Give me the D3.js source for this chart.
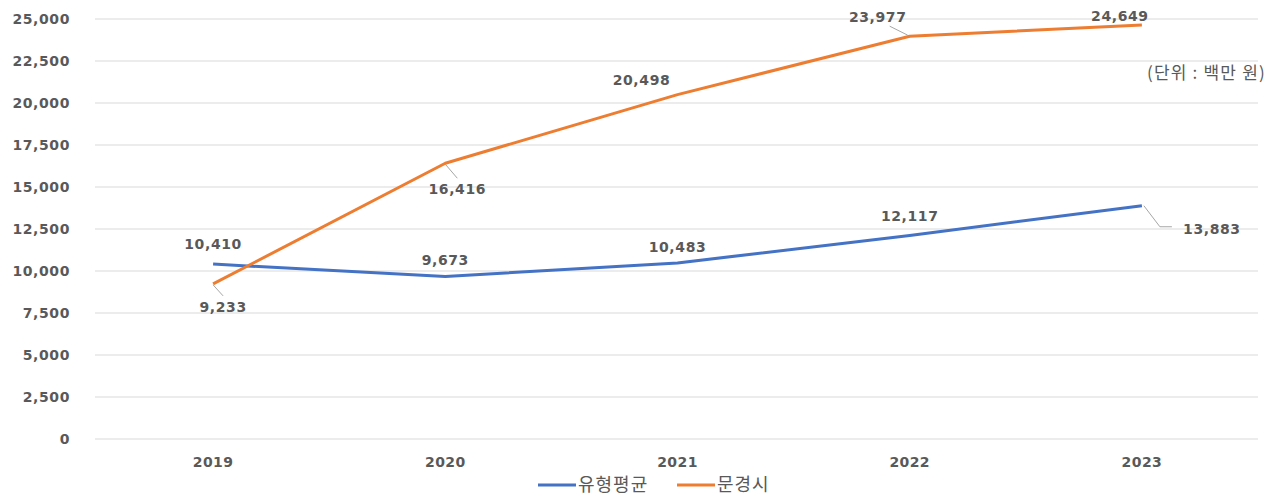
<!DOCTYPE html>
<html>
<head>
<meta charset="utf-8">
<script src="https://cdn.jsdelivr.net/npm/d3@7"></script>
<style>
  body { margin: 0; background: #fff; }
  text { font-family: "DejaVu Sans", "Noto Sans CJK KR", sans-serif; fill: #595959; }
  .kr { font-family: "Noto Sans CJK KR", sans-serif; }
</style>
</head>
<body>
<script>
const years = ['2019', '2020', '2021', '2022', '2023'];
const avgValues = [10410, 9673, 10483, 12117, 13883];
const mungValues = [9233, 16416, 20498, 23977, 24649];
const seriesNames = ['유형평균', '문경시'];
const yTicks = [0, 2500, 5000, 7500, 10000, 12500, 15000, 17500, 20000, 22500, 25000];

// label offsets (dx, dy) from the point, and whether a leader line is drawn
const avgLabelPos = [[0, -20, false], [0, -16, false], [0, -16, false], [0, -19, false], [70, 23, true]];
const mungLabelPos = [[10, 23, true], [12, 26, true], [-36, -15, false], [-32, -19, true], [-22, -9, false]];

const svgWidth = 1276;
const svgHeight = 497;

const svg = d3.select('body').append('svg')
  .attr('width', svgWidth)
  .attr('height', svgHeight);

const x = d3.scaleBand()
  .domain(years)
  .range([97, 1258]);

const y = d3.scaleLinear()
  .domain([0, 25000])
  .range([439, 19]);

const fmt = d3.format(',');

// gridlines
svg.append('g')
  .selectAll('line')
  .data(yTicks)
  .enter()
  .append('line')
  .attr('x1', 95)
  .attr('x2', 1258)
  .attr('y1', d => y(d))
  .attr('y2', d => y(d))
  .attr('stroke', '#d9d9d9')
  .attr('stroke-width', 1);

// y axis labels
svg.append('g')
  .selectAll('text')
  .data(yTicks)
  .enter()
  .append('text')
  .attr('x', 70)
  .attr('y', d => y(d))
  .attr('dy', '0.35em')
  .attr('text-anchor', 'end')
  .attr('font-size', 14)
  .attr('font-weight', 'bold')
  .attr('letter-spacing', 0.6)
  .text(d => fmt(d));

// x axis labels
svg.append('g')
  .selectAll('text')
  .data(years)
  .enter()
  .append('text')
  .attr('x', d => x(d) + x.bandwidth() / 2)
  .attr('y', 462)
  .attr('dy', '0.35em')
  .attr('text-anchor', 'middle')
  .attr('font-size', 14)
  .attr('font-weight', 'bold')
  .attr('letter-spacing', 0.4)
  .text(d => d);

const line = d3.line()
  .x((d, i) => x(years[i]) + x.bandwidth() / 2)
  .y(d => y(d));

const series = [
  { name: seriesNames[0], values: avgValues, color: '#4472C4', labels: avgLabelPos },
  { name: seriesNames[1], values: mungValues, color: '#ED7D31', labels: mungLabelPos }
];

// data label leaders first
series.forEach(s => {
  s.values.forEach((v, i) => {
    const px = x(years[i]) + x.bandwidth() / 2;
    const py = y(v);
    const [dx, dy, leader] = s.labels[i];
    if (!leader) return;
    let pts;
    if (dx > 40) {
      pts = [[px + 2, py], [px + 18, py + 21], [px + 30, py + 21]];
    } else if (dy > 0) {
      pts = [[px, py + 1], [px + dx, py + dy - 11]];
    } else {
      pts = [[px - 2, py - 1], [px + dx + 12, py + dy + 9]];
    }
    svg.append('polyline')
      .attr('points', pts.map(p => p.join(',')).join(' '))
      .attr('fill', 'none')
      .attr('stroke', '#a6a6a6')
      .attr('stroke-width', 1);
  });
});

series.forEach(s => {
  svg.append('path')
    .datum(s.values)
    .attr('d', line)
    .attr('fill', 'none')
    .attr('stroke', s.color)
    .attr('stroke-width', 3)
    .attr('stroke-linejoin', 'round');
});

// data labels
series.forEach(s => {
  s.values.forEach((v, i) => {
    const px = x(years[i]) + x.bandwidth() / 2;
    const py = y(v);
    const [dx, dy] = s.labels[i];
    svg.append('text')
      .attr('x', px + dx)
      .attr('y', py + dy)
      .attr('dy', '0.35em')
      .attr('text-anchor', 'middle')
      .attr('font-size', 14)
      .attr('font-weight', 'bold')
      .attr('letter-spacing', 0.6)
      .text(fmt(v));
  });
});

// unit
svg.append('text')
  .attr('class', 'kr')
  .attr('x', 1266)
  .attr('y', 73)
  .attr('dy', '0.35em')
  .attr('text-anchor', 'end')
  .attr('font-size', 17)
  .attr('letter-spacing', 1.2)
  .text('(단위 : 백만 원)');

// legend
const legend = svg.append('g');
const legendX = [538, 677];
series.forEach((s, i) => {
  legend.append('line')
    .attr('x1', legendX[i])
    .attr('x2', legendX[i] + 38)
    .attr('y1', 485)
    .attr('y2', 485)
    .attr('stroke', s.color)
    .attr('stroke-width', 3);
  legend.append('text')
    .attr('class', 'kr')
    .attr('x', legendX[i] + 40)
    .attr('y', 485)
    .attr('dy', '0.35em')
    .attr('font-size', 18)
    .attr('letter-spacing', 1)
    .text(s.name);
});
</script>
</body>
</html>
